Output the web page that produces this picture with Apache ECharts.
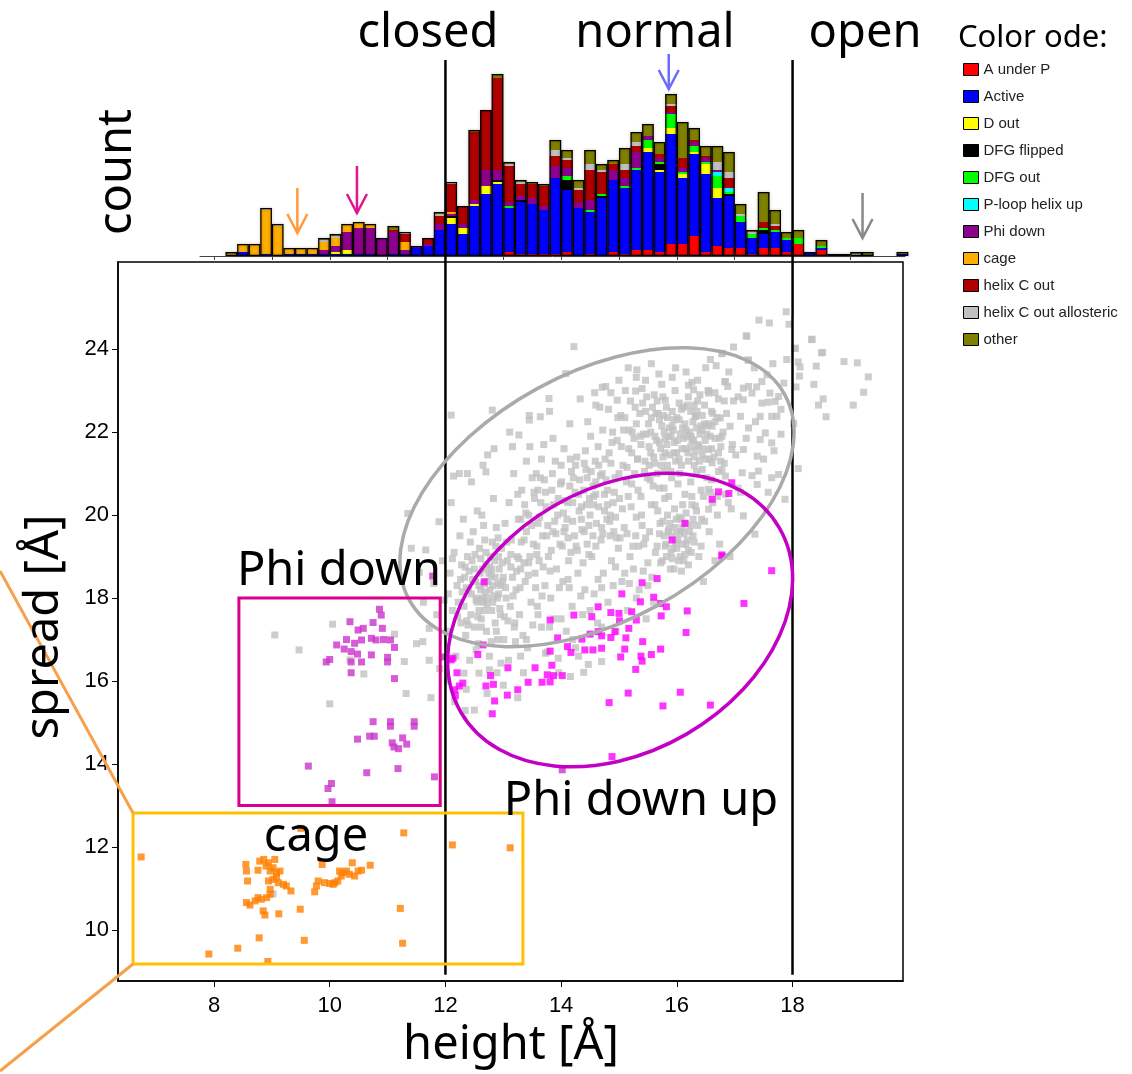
<!DOCTYPE html>
<html>
<head>
<meta charset="utf-8">
<script src="https://cdn.jsdelivr.net/npm/echarts@6/dist/echarts.min.js"></script>
<style>
  html, body { margin: 0; padding: 0; background: #fff; }
  #main { width: 1132px; height: 1074px; }
</style>
</head>
<body>
<div id="main"></div>
<script>
// ---- histogram (height bins of 0.2 A, starting at 8.2) ----
const binStart = 8.2;
const binWidth = 0.2;
const categories = ['A under P', 'Active', 'D out', 'DFG flipped', 'DFG out', 'P-loop helix up',
  'Phi down', 'cage', 'helix C out', 'helix C out allosteric', 'other'];
const catColors = ['#ff0000', '#0000ff', '#ffff00', '#000000', '#00ff00', '#00ffff',
  '#8e008e', '#ffad00', '#b00000', '#c0c0c0', '#808000'];

const aUnderP = [0,0,0,0,0,0,0,0,0,0, 0,0,0,0,0,0,0,0,0,0, 0,0,0,0,2,1,1,1,1,2,
  0,1,0,2,1,3,3,2,6,6, 10,2,5,4,4,1,4,4,2,6, 0,3,1,0,0,0,0,0,0];
const active = [0,2,0,1,0,1,1,1,1,1, 1,1,1,0,1,1,4,5,13,16, 11,25,31,36,22,26,25,22,38,31,
  24,21,29,36,33,40,49,40,55,33, 41,39,24,26,13,8,7,8,6,0, 2,1,0,0,0,0,0,0,1];
const dOut = [0,0,0,0,0,0,0,0,0,1, 2,0,0,0,0,0,0,0,0,3, 3,1,4,1,0,0,0,0,0,0,
  0,0,0,0,0,0,2,1,3,2, 1,5,5,0,0,0,0,0,0,0, 0,0,0,0,0,0,0,0,0];
const dfgFlipped = [0,0,0,0,0,0,0,0,0,0, 0,0,0,0,0,0,0,0,0,1, 0,0,0,1,0,1,0,0,0,5,
  0,0,1,0,0,0,0,3,0,0, 0,0,0,1,0,0,2,0,0,0, 0,0,0,0,0,0,0,0,0];
const dfgOut = [0,0,0,0,0,0,0,0,0,0, 0,0,0,0,0,0,0,0,0,0, 0,0,0,0,1,0,0,0,0,2,
  0,1,1,0,1,1,4,1,7,1, 3,1,6,1,3,2,1,1,1,3, 0,1,0,0,0,0,0,0,0];
const ploopUp = [0,0,0,0,0,0,0,0,0,0, 0,0,0,0,0,0,0,0,0,0, 0,0,0,0,0,0,0,0,0,0,
  0,0,0,0,0,0,0,0,0,0, 0,0,2,2,0,0,0,0,0,0, 0,0,0,0,0,0,0,0,0];
const phiDown = [0,0,0,0,0,0,0,0,2,3, 9,13,13,9,11,2,1,1,3,1, 2,2,8,5,2,2,3,2,6,4,
  3,5,0,5,4,8,2,2,1,2, 2,2,1,0,0,0,0,0,0,0, 0,0,0,0,0,0,0,0,0];
const cage = [1,4,6,22,15,3,3,3,4,4, 4,3,2,0,0,4,0,0,0,1, 0,0,0,0,0,0,0,0,0,0,
  0,0,0,0,0,0,0,0,0,0, 0,0,0,0,0,0,0,0,0,0, 0,0,0,0,0,0,0,0,0];
const helixCOut = [0,0,0,0,0,0,0,0,0,0, 0,0,0,0,1,4,0,3,4,14, 9,34,30,46,18,6,7,10,5,4,
  6,15,11,3,4,3,0,2,3,5, 1,1,0,5,0,0,3,2,0,0, 0,0,0,0,0,0,0,0,0];
const allosteric = [0,0,0,1,1,0,0,0,1,1, 0,0,0,0,0,1,0,0,1,1, 0,0,0,0,1,1,0,0,3,1,
  1,3,1,0,3,2,0,0,1,0, 0,0,4,3,1,1,0,1,0,0, 0,0,0,0,1,0,0,0,0];
const other = [1,0,0,0,0,0,0,0,1,1, 0,0,0,0,2,0,0,0,1,0, 0,1,0,2,1,1,1,1,5,4,
  4,7,3,2,8,5,6,6,5,18, 6,5,8,10,5,1,15,7,3,4, 0,3,0,1,1,2,0,0,1];
const histCounts = [aUnderP, active, dOut, dfgFlipped, dfgOut, ploopUp, phiDown, cage, helixCOut, allosteric, other];

// ---- scatter: [height, spread] ----
const greyPts = [
  [9.05,17.11],[9.47,16.75],[10.05,17.37],[11.12,17.13],[10.59,16.17],[10.0,15.45],[11.32,15.7],[10.35,16.51],[11.61,16.95],[9.02,10.87],
  [11.29,16.47],[11.72,17.27],[11.41,19.2],[11.66,19.16],[11.35,20.04],[11.89,19.84],[12.1,22.41],[11.55,18.62],[11.8,18.35],[11.95,18.9],
  [11.62,17.9],[11.85,17.6],[11.9,16.3],[11.5,16.9],[11.75,15.6],[11.98,17.95],[11.72,16.5],
  [12.03,17.2],[12.05,18.1],[12.08,18.6],[12.12,17.7],[12.15,19.1],[12.18,16.6],[12.2,18.3],[12.22,17.9],[12.25,19.5],[12.27,17.4],
  [12.04,16.0],[12.1,20.3],[12.28,18.8],[12.16,15.5],[12.24,21.0],
  [12.32,17.8],[12.33,18.5],[12.35,17.1],[12.38,19.0],[12.4,18.2],[12.42,16.5],[12.44,17.6],[12.46,18.9],[12.48,19.6],[12.5,17.3],
  [12.52,18.4],[12.54,18.0],[12.55,20.1],[12.57,16.9],[12.58,17.7],[12.36,15.8],[12.45,20.8],[12.59,19.2],[12.31,19.9],[12.5,15.3],
  [12.61,18.2],[12.62,17.5],[12.64,18.7],[12.66,17.9],[12.68,19.4],[12.7,18.4],[12.71,17.2],[12.73,18.0],[12.75,18.6],[12.76,16.6],
  [12.78,19.0],[12.8,17.7],[12.82,18.3],[12.83,20.4],[12.85,18.9],[12.86,17.4],[12.88,19.7],[12.89,16.2],[12.65,21.2],[12.72,15.7],
  [12.84,21.6],[12.63,20.0],
  [12.92,18.1],[12.93,18.7],[12.95,17.6],[12.97,19.2],[12.99,18.4],[13.01,17.0],[13.03,19.8],[13.05,18.0],[13.07,18.9],[13.09,16.5],
  [13.1,20.3],[13.12,17.8],[13.14,19.4],[13.16,18.5],[13.18,21.0],[13.19,17.3],[13.0,15.9],[13.11,22.0],
  [13.22,18.2],[13.24,19.0],[13.26,19.9],[13.28,17.6],[13.3,18.7],[13.32,20.6],[13.34,17.1],[13.36,19.4],[13.38,18.4],[13.4,21.3],
  [13.42,16.8],[13.44,20.0],[13.46,19.0],[13.48,17.9],[13.25,15.6],[13.45,22.4],[13.35,16.2],
  [12.58,18.3],[12.65,18.0],[12.7,18.8],[12.77,18.2],[12.82,17.9],[12.86,18.5],[12.9,18.0],[12.6,18.6],[12.68,17.7],[12.74,18.4],
  [12.8,18.7],[12.55,17.9],[12.95,18.3],[12.5,18.7],[12.62,17.3],[12.88,17.2],[13.0,18.5],[12.45,18.1],[12.92,19.0],[12.7,19.1],
  [13.52,19.3],[13.54,20.4],[13.55,18.6],[13.57,21.0],[13.59,17.8],[13.6,19.8],[13.62,18.9],[13.64,20.9],[13.66,17.3],[13.68,19.5],
  [13.7,21.7],[13.72,18.3],[13.74,20.2],[13.76,16.7],[13.78,19.0],[13.8,22.5],[13.82,18.0],[13.84,20.6],[13.86,19.6],[13.88,17.5],
  [13.9,21.3],[13.92,18.7],[13.94,20.0],[13.96,16.2],[13.98,19.3],
  [14.01,20.8],[14.03,18.4],[14.05,21.6],[14.07,19.7],[14.09,17.2],[14.11,20.3],[14.13,18.9],[14.15,22.2],[14.17,19.1],[14.19,17.8],
  [14.21,20.9],[14.23,19.5],[14.25,16.8],[14.27,21.4],[14.29,18.6],[14.31,20.1],[14.33,22.8],[14.35,19.9],[14.37,17.6],[14.39,20.6],
  [14.41,18.2],[14.43,21.1],[14.45,19.3],[14.47,16.4],[14.49,20.4],[14.22,24.06],[14.39,16.21],[14.16,16.11],
  [14.51,21.9],[14.53,19.0],[14.55,20.7],[14.57,18.1],[14.59,21.3],[14.61,19.8],[14.63,17.4],[14.65,20.2],[14.67,22.6],[14.69,19.4],
  [14.7,16.47],[14.71,21.0],[14.73,18.6],[14.75,20.5],[14.77,23.1],[14.79,19.9],[14.81,17.9],[14.83,21.5],[14.85,20.0],[14.87,18.9],
  [14.89,22.0],[14.91,19.6],[14.93,20.9],[14.95,17.2],[14.97,21.8],[14.99,19.2],
  [15.01,20.4],[15.03,22.4],[15.05,18.4],[15.07,21.2],[15.09,19.7],[15.11,23.0],[15.13,20.8],[15.15,17.7],[15.17,21.6],[15.19,19.0],
  [15.21,20.2],[15.23,22.0],[15.25,18.7],[15.27,21.0],[15.29,19.5],[15.31,23.5],[15.33,20.6],[15.35,18.2],[15.37,21.9],[15.39,20.0],
  [15.41,22.7],[15.43,19.3],[15.45,21.3],[15.47,17.5],[15.49,20.9],
  [15.51,22.2],[15.53,19.6],[15.55,21.5],[15.57,18.5],[15.59,20.7],[15.61,22.9],[15.63,19.1],[15.65,21.8],[15.67,20.1],[15.69,23.4],
  [15.71,19.8],[15.73,21.2],[15.75,18.9],[15.77,22.4],[15.79,20.4],[15.81,19.3],[15.83,21.7],[15.85,19.6],[15.87,22.1],[15.89,18.7],
  [15.91,20.9],[15.93,19.2],[15.95,21.5],[15.97,23.0],[15.99,19.9],
  [16.01,21.8],[16.02,19.4],[16.04,22.3],[16.06,19.0],[16.08,21.2],[16.1,19.7],[16.12,22.6],[16.14,20.5],[16.16,19.3],[16.18,21.9],
  [16.2,18.8],[16.22,22.0],[16.24,20.8],[16.26,23.2],[16.28,19.5],[16.3,21.4],[16.32,22.38],[16.34,20.1],[16.36,21.7],[16.38,19.0],
  [16.4,22.9],[16.42,20.6],[16.44,21.1],[16.46,18.4],[16.48,22.2],
  [16.52,20.9],[16.54,23.0],[16.56,19.6],[16.58,21.9],[16.6,22.5],[16.62,20.3],[16.64,21.4],[16.66,18.9],[16.68,23.6],[16.7,20.0],
  [16.72,22.8],[16.74,19.3],[16.76,21.3],[16.8,22.0],[16.84,20.5],[16.88,23.1],[16.92,19.0],[16.96,21.7],
  [15.6,21.4],[15.72,21.6],[15.84,21.2],[15.9,21.9],[16.0,21.5],[16.05,21.0],[16.15,21.6],[16.25,21.9],[16.3,21.2],[15.78,22.0],
  [15.95,22.3],[16.1,22.1],[16.2,21.3],[15.66,21.0],[16.35,22.5],[15.55,22.0],[16.45,21.6],[15.8,21.5],
  [15.22,21.5],[15.3,22.2],[15.38,21.7],[15.46,22.5],[15.52,21.2],[15.58,22.6],[15.62,21.9],[15.7,22.3],[15.76,21.4],[15.82,22.6],
  [15.86,21.9],[15.92,22.5],[15.98,21.3],[16.04,22.7],[16.09,21.6],[16.14,22.2],[16.19,21.5],[16.24,22.5],[16.29,21.8],[16.34,22.1],
  [16.39,21.3],[16.44,22.4],[16.49,21.8],[16.55,22.2],[16.6,21.6],
  [15.82,19.0],[15.9,19.5],[16.0,19.2],[16.06,19.6],[16.12,18.9],[16.18,19.4],[15.95,18.7],[16.08,19.9],[16.25,19.1],[15.88,19.8],
  [15.78,19.5],[15.84,20.0],[15.9,19.1],[15.97,19.7],[16.03,18.9],[16.1,19.3],[16.15,19.8],[16.22,19.6],[16.28,19.9],
  [13.25,20.5],[13.4,19.6],[13.5,20.9],[13.65,20.3],[13.75,19.5],[13.85,21.0],[13.95,20.4],[14.05,19.6],[14.15,20.7],[14.25,21.2],
  [14.35,20.2],[14.45,20.9],[14.55,19.5],[14.65,21.2],[14.75,20.1],[14.85,19.5],[13.6,20.6],[13.3,19.9],[14.0,21.2],[14.6,20.5],
  [14.1,19.9],[14.3,20.5],[14.5,20.0],[14.6,20.8],[14.8,20.6],[14.4,19.6],[14.2,20.3],[14.9,20.3],[15.0,21.0],[14.7,19.7],
  [12.9,17.0],[13.2,17.4],[13.4,17.0],[13.6,17.6],[13.8,17.3],[14.0,17.5],[14.2,17.0],[14.5,17.7],[14.7,17.3],[14.9,18.3],
  [15.1,18.6],[15.3,18.0],[15.5,18.3],[15.6,17.9],[13.95,16.55],[13.73,16.67],[12.32,16.19],[12.58,16.19],[12.76,16.27],[12.96,16.43],
  [12.34,15.29],[13.3,16.6],[14.3,16.6],
  [12.81,22.53],[13.64,22.37],[13.79,22.81],[14.08,23.41],[12.73,21.45],[12.38,21.0],[12.14,20.94],[12.7,21.04],[13.27,21.93],[13.16,21.65],
  [13.45,22.29],[14.71,23.08],[14.97,22.77],[15.3,23.32],[15.46,23.25],[15.92,23.32],[15.29,22.99],[15.8,22.77],[16.2,23.13],[16.84,23.21],
  [16.55,22.99],[16.78,23.89],[17.24,23.73],[17.21,24.31],
  [16.78,23.9],[17.23,23.74],[16.83,23.22],[17.15,23.06],[17.24,23.1],[17.38,23.09],[17.58,22.72],[17.7,22.74],[17.76,22.86],[17.85,23.18],
  [17.61,22.94],[17.47,22.7],[17.64,22.38],[17.73,22.38],[17.44,22.38],[17.53,21.98],[17.44,21.82],[17.64,21.74],[17.39,21.42],[17.15,21.58],
  [17.24,22.1],[16.92,22.14],[16.95,21.58],[16.72,21.5],[16.78,21.9],[16.55,21.58],[16.61,21.26],[17.41,21.06],[17.64,20.9],[17.76,20.98],
  [17.87,20.38],[17.39,20.74],[17.13,21.02],[16.78,21.1],[16.84,20.94],[16.55,20.62],[16.32,20.22],[16.43,19.9],[16.55,20.14],[17.15,19.98],
  [17.35,19.54],[16.89,20.3],[16.29,23.02],[16.55,22.94],[16.32,22.38],[16.43,22.06],[16.61,22.14],[16.26,21.82],[16.38,21.66],[16.75,22.34],
  [17.1,22.38],[17.15,22.78],[17.47,23.22],[17.3,22.94],[17.56,23.38],
  [17.89,24.9],[17.6,24.63],[17.42,24.7],[17.2,24.32],[17.94,24.6],[18.33,24.23],[18.5,23.91],[18.04,24.02],[18.1,23.69],
  [18.34,24.24],[18.52,23.92],[18.13,23.57],[18.41,23.59],[18.89,23.7],[19.12,23.67],[19.31,23.33],[19.23,22.96],[19.05,22.65],[18.58,22.37],
  [18.45,22.65],[18.53,22.8],[18.37,23.15],[18.12,23.35],[18.06,23.09],[18.05,24.02],[18.1,21.12],[18.02,22.21],
  [12.12,18.95],[12.26,18.45],[12.37,17.45],[12.43,19.35],[12.53,16.75],[12.66,19.75],[12.79,16.95],[12.91,19.45],[13.02,17.55],[13.13,19.05],
  [13.21,16.95],[13.29,18.25],[13.37,20.25],[13.43,18.55],[13.51,17.35],[13.58,19.05],[13.67,18.05],[13.73,20.55],[13.81,18.65],[13.89,19.85],
  [13.97,18.25],[14.04,20.05],[14.12,18.45],[14.18,21.05],[14.26,19.25],[14.34,18.05],[14.42,21.55],[14.48,19.05],[14.56,20.25],[14.64,18.45],
  [14.72,22.05],[14.78,20.85],[14.86,21.25],[14.94,19.95],[15.02,19.45],[15.08,22.05],[15.16,20.45],[15.24,19.25],[15.32,21.35],[15.4,19.75],
  [15.48,21.95],[15.56,20.25],[15.64,22.45],[15.7,20.65],[15.78,21.05],[15.86,20.45],[15.94,22.05],[16.02,20.75],[16.1,20.25],[16.18,22.65],
  [16.26,20.45],[16.34,21.05],[16.42,22.15],[16.5,21.35],[16.58,20.55],[16.66,22.25],[16.74,21.85],[16.86,22.45],[16.98,22.75],[17.06,20.65],
  [12.21,17.55],[12.29,18.15],[12.34,18.75],[12.39,17.35],[12.47,18.45],[12.51,19.05],[12.56,17.55],[12.61,18.95],[12.67,18.35],[12.72,17.85],
  [12.79,18.55],[12.84,18.05],[12.87,19.25],[12.94,17.75],[12.98,18.85],[13.04,18.25],[13.08,17.45],[13.13,18.75],[13.17,18.05],[13.23,18.65],
  [12.41,18.65],[12.53,17.95],[12.63,17.95],[12.76,18.75],[12.91,18.35],[13.06,19.35],[12.36,18.25],[12.69,18.15],[12.81,19.35],[13.27,18.95],
  [13.31,19.35],[13.39,20.05],[13.44,18.85],[13.49,19.75],[13.53,20.55],[13.58,19.25],[13.63,19.95],[13.69,18.75],[13.71,20.85],[13.77,19.75],
  [13.83,19.15],[13.87,20.25],[13.91,19.55],[13.99,20.75],[14.02,19.25],[14.06,20.35],[14.12,19.45],[14.16,21.35],[14.2,19.85],[14.24,20.55],
  [14.28,19.15],[14.32,20.85],[14.36,19.65],[14.4,21.25],[14.44,20.25],[14.48,19.75],[14.52,21.05],[14.56,20.45],[14.6,19.25],[14.64,21.65],
  [14.68,20.95],[14.72,19.55],[14.76,21.35],[14.8,20.25],[14.84,19.85],[14.88,21.75],[14.92,20.55],[14.96,19.45],[13.46,21.65],[13.56,18.25],
  [13.86,21.85],[14.14,18.25],[14.46,22.25],[14.7,18.25],[14.98,22.35],[13.36,18.85],[13.66,21.35],[14.38,18.85],[14.82,22.55],[14.58,22.95],
  [15.04,21.65],[15.1,22.35],[15.14,21.15],[15.2,22.75],[15.26,21.85],[15.32,21.35],[15.36,22.45],[15.42,21.95],[15.48,22.85],[15.52,21.65],
  [15.56,22.35],[15.62,21.25],[15.66,22.75],[15.7,21.75],[15.74,22.15],[15.8,21.85],[15.84,22.35],[15.88,21.45],[15.92,22.15],[15.96,21.75],
  [16.0,22.35],[16.04,21.35],[16.08,22.55],[16.12,21.85],[16.16,22.05],[16.2,22.85],[16.24,21.65],[16.28,22.25],[16.32,21.55],[16.36,22.75],
  [16.4,21.95],[16.44,21.45],[16.48,22.65],[16.52,21.95],[16.56,21.35],[16.62,22.45],[16.66,21.85],[16.7,22.35],[16.76,21.65],[16.82,22.75],
  [15.18,22.05],[15.44,21.05],[15.68,22.45],[15.9,21.05],[16.06,21.95],[16.3,22.65],[16.5,22.15],[16.72,21.05],[15.28,22.6],[15.76,22.85],
  [15.66,19.25],[15.72,18.85],[15.76,19.85],[15.8,19.25],[15.86,19.65],[15.92,18.95],[15.96,20.15],[16.0,19.55],[16.04,19.95],[16.08,18.65],
  [16.12,19.55],[16.16,20.05],[16.2,19.15],[16.24,19.75],[16.3,19.35],[16.36,19.75],[16.42,19.25],[16.48,19.85],[15.98,19.35],[16.14,19.05],
  [15.06,20.15],[15.14,19.55],[15.22,20.75],[15.3,19.95],[15.38,20.45],[15.46,19.45],[15.54,20.85],[15.62,20.25],[15.7,19.55],[15.78,20.65],
  [16.26,20.25],[16.46,20.45],[16.6,20.85],[16.7,20.45],[16.82,21.25],[16.94,20.15],[17.02,21.45],[17.1,20.55],[17.2,21.85],[17.3,20.95],
  [17.36,22.25],[17.5,21.35],[17.58,20.55],[17.68,21.55],[17.8,21.95],[15.34,19.25],[15.5,18.85],[15.18,18.35],[14.94,18.75],[15.42,18.65],
  [14.6,22.65],[14.86,22.95],[15.0,23.25],[15.16,23.55],[15.4,23.05],[15.56,23.65],[15.74,23.15],[15.98,23.55],[16.16,23.45],[16.36,23.25],
  [16.5,23.55],[16.66,22.95],[16.9,23.45],[17.06,22.85],[17.34,23.55],[16.98,24.05],[16.58,23.75],[17.66,23.65],[17.9,23.75],[17.8,22.55]
];
const phiUpPts = [
  [12.67,18.39],[15.66,18.47],[15.4,18.37],[15.05,18.1],[15.37,17.91],[15.6,18.02],[15.72,17.87],[15.82,17.79],[16.18,17.69],[15.73,17.57],
  [17.16,17.87],[17.64,18.66],[16.78,19.01],[14.22,17.59],[14.64,17.79],[14.86,17.65],[15.0,17.63],[15.22,17.67],[15.3,17.47],[14.53,17.55],
  [13.81,17.47],[15.01,17.45],[15.17,17.27],[14.64,17.19],[14.5,17.13],[14.7,17.09],[14.86,17.05],[14.93,17.19],[15.12,17.04],[15.41,16.95],
  [13.94,17.04],[14.36,17.01],[14.11,16.83],[14.41,16.75],[14.55,16.75],[14.7,16.79],[15.1,16.77],[15.72,16.77],[16.16,17.17],[15.56,16.64],
  [15.38,16.6],[15.4,16.48],[15.03,16.58],[14.17,16.69],[13.81,16.72],[15.29,16.28],[13.84,16.38],[13.55,16.32],[13.76,16.15],[13.87,16.13],
  [14.02,16.13],[13.81,15.98],[13.67,15.97],[13.43,15.97],[13.08,16.32],[13.25,15.79],[13.07,15.66],[12.83,15.92],[12.7,15.88],[12.78,16.13],
  [12.65,16.87],[12.56,16.64],[12.24,15.88],[12.16,15.79],[12.17,15.65],[12.13,16.55],[12.1,16.51],[12.85,15.52],[12.81,15.21],[15.16,15.71],
  [14.83,15.48],[15.76,15.4],[16.58,15.42],[16.06,15.73],[14.88,14.18],[16.95,20.78],[16.72,20.56],[16.9,20.52],[16.61,20.38],[16.14,19.8],
  [16.78,19.04],[15.92,19.4],[12.2,16.2],[12.3,15.95]
];
const phiDownPts = [
  [10.35,17.43],[10.49,17.23],[10.58,17.27],[10.29,17.0],[10.43,16.91],[10.55,16.99],[10.12,16.87],[10.25,16.77],[10.37,16.71],[10.48,16.65],
  [10.75,17.41],[10.86,17.73],[10.89,17.59],[10.91,17.27],[10.72,17.03],[10.8,16.99],[10.93,17.0],[11.05,16.99],[11.12,16.81],[10.72,16.63],
  [11.0,16.57],[11.0,16.46],[10.55,16.46],[10.37,16.46],[9.94,16.46],[10.0,16.52],[10.37,16.2],[11.12,16.06],[10.75,15.02],[11.05,15.02],
  [11.05,14.91],[11.46,15.02],[11.46,14.91],[10.48,14.6],[10.69,14.67],[10.77,14.67],[11.08,14.51],[11.11,14.41],[11.19,14.37],[11.26,14.63],
  [11.33,14.48],[9.63,13.95],[10.64,13.79],[11.18,13.89],[11.81,13.69],[10.03,13.53],[9.97,13.41],[10.04,13.09],[11.78,18.53],[11.95,16.58],
  [14.02,13.86]
];
const cagePts = [
  [6.74,11.76],[11.28,12.34],[12.12,12.05],[13.12,11.98],[7.91,9.42],[8.41,9.56],[8.78,9.81],[8.93,9.24],[9.56,9.75],[9.49,10.5],
  [9.12,10.39],[11.22,10.52],[11.26,9.68],[9.5,12.45],
  [8.55,11.58],[8.56,11.42],[8.58,11.18],[8.79,11.66],[8.86,11.7],[8.76,11.44],[8.9,11.54],[8.94,11.62],[9.05,11.7],[8.97,11.42],
  [9.02,11.5],[9.08,11.38],[9.14,11.42],[8.94,11.18],[9.02,11.22],[9.11,11.14],[9.2,11.1],[9.25,11.06],[9.33,10.94],[8.97,10.98],
  [8.56,10.66],[8.62,10.6],[8.71,10.7],[8.76,10.78],[8.82,10.74],[8.91,10.78],[8.85,10.46],[8.88,10.36],[8.97,10.86],[9.08,11.28],
  [9.87,11.58],[9.8,11.18],[9.77,11.06],[9.74,10.92],[9.91,11.14],[10.0,11.12],[10.09,11.14],[10.14,11.18],[10.2,11.3],[10.17,11.42],
  [10.29,11.42],[10.34,11.34],[10.39,11.62],[10.43,11.3],[10.49,11.42],[10.55,11.44],[10.7,11.56],[10.23,11.38],[10.06,11.1]
];

// ---- annotations (data units) ----
const cutLines = [12, 18];
const arrows = [
  { x: 9.44, top: 34, tip: 11.5, color: '#ff9a3c' },
  { x: 10.47, top: 45, tip: 21.5, color: '#e0168e' },
  { x: 15.86, top: 101, tip: 83.5, color: '#6b6bff' },
  { x: 19.21, top: 31.5, tip: 9, color: '#888888' }
];
const ellipses = [
  { c: [14.62, 20.43], rx: 214, ry: 124, deg: 28.6, color: '#aaaaaa' },
  { c: [15.02, 17.47], rx: 184, ry: 132, deg: 30, color: '#c400c4' }
];
const boxes = [
  { a: [8.43, 18.0], b: [11.91, 13.0], color: '#d9008c' },
  { a: [6.6, 12.82], b: [13.34, 9.18], color: '#ffc000' }
];

const chart = echarts.init(document.getElementById('main'));

const axisFont = 'Liberation Sans';
const bigFont = '47px "Noto Sans"';

// rows are [count, bin centre]; count comes first so the stack runs on the count
const binRow = (v, k) => [v, binStart + binWidth * (k + 0.5)];

const barSeries = categories.map((name, i) => ({
  name: name,
  type: 'bar',
  stack: 'hist',
  xAxisIndex: 0,
  yAxisIndex: 0,
  encode: { x: 1, y: 0 },
  barWidth: 11.6,
  clip: false,
  itemStyle: { color: catColors[i] },
  data: histCounts[i].map(binRow)
}));

const totals = aUnderP.map((_, k) => histCounts.reduce((s, arr) => s + arr[k], 0));

const option = {
  animation: false,
  backgroundColor: '#fff',
  legend: {
    data: categories,
    orient: 'vertical',
    left: 963,
    top: 62,
    padding: 0,
    itemWidth: 15,
    itemHeight: 12,
    itemGap: 12,
    icon: 'rect',
    selectedMode: false,
    itemStyle: { borderColor: '#000', borderWidth: 1 },
    textStyle: { fontSize: 15, fontFamily: axisFont, color: '#222' }
  },
  grid: [
    { left: 200, top: 56, width: 705, height: 200 },
    { left: 118, top: 262, width: 785, height: 719, show: true, borderColor: '#000', borderWidth: 1.5 }
  ],
  xAxis: [
    {
      type: 'value', gridIndex: 0, min: 7.757, max: 19.944,
      splitLine: { show: false },
      axisLine: { lineStyle: { color: '#444', width: 1 } },
      axisTick: { customValues: [8, 9, 10, 11, 12, 13, 14, 15, 16, 17, 18, 19], length: 4, lineStyle: { color: '#444' } },
      axisLabel: { show: false }
    },
    {
      type: 'value', gridIndex: 1, min: 6.34, max: 19.91,
      splitLine: { show: false },
      axisLine: { lineStyle: { color: '#000', width: 1.5 } },
      axisTick: { customValues: [8, 10, 12, 14, 16, 18], length: 6, lineStyle: { color: '#000' } },
      axisLabel: { customValues: [8, 10, 12, 14, 16, 18], fontSize: 22, fontFamily: axisFont, color: '#000', margin: 14 }
    }
  ],
  yAxis: [
    { type: 'value', gridIndex: 0, min: 0, max: 100, show: false },
    {
      type: 'value', gridIndex: 1, min: 8.77, max: 26.1,
      splitLine: { show: false },
      axisLine: { lineStyle: { color: '#000', width: 1.5 } },
      axisTick: { customValues: [10, 12, 14, 16, 18, 20, 22, 24], length: 6, lineStyle: { color: '#000' } },
      axisLabel: { customValues: [10, 12, 14, 16, 18, 20, 22, 24], fontSize: 22, fontFamily: axisFont, color: '#000', margin: 9 }
    }
  ],
  series: barSeries.concat([
    {
      name: 'total',
      type: 'bar',
      xAxisIndex: 0,
      yAxisIndex: 0,
      encode: { x: 1, y: 0 },
      barWidth: 11.6,
      barGap: '-100%',
      clip: false,
      z: 3,
      itemStyle: { color: 'rgba(0,0,0,0)', borderColor: '#000', borderWidth: 1.2,
        shadowBlur: 3, shadowColor: 'rgba(0,0,0,0.35)' },
      data: totals.map((t, k) => binRow(t > 0 ? t : '-', k))
    },
    { name: 'grey', type: 'scatter', xAxisIndex: 1, yAxisIndex: 1, symbol: 'rect', symbolSize: 7,
      itemStyle: { color: '#c0c0c0' }, data: greyPts },
    { name: 'phi down up', type: 'scatter', xAxisIndex: 1, yAxisIndex: 1, symbol: 'rect', symbolSize: 7,
      itemStyle: { color: '#ff00ff' }, data: phiUpPts },
    { name: 'phi down pts', type: 'scatter', xAxisIndex: 1, yAxisIndex: 1, symbol: 'rect', symbolSize: 7,
      itemStyle: { color: '#cc33cc' }, data: phiDownPts },
    { name: 'cage pts', type: 'scatter', xAxisIndex: 1, yAxisIndex: 1, symbol: 'rect', symbolSize: 7,
      itemStyle: { color: '#ff8000' }, data: cagePts }
  ])
};

chart.setOption(option);

// annotations placed through the axes
const hp = p => chart.convertToPixel({ gridIndex: 0 }, p);
const sp = p => chart.convertToPixel({ gridIndex: 1 }, p);
const g = [];

cutLines.forEach(x => {
  const top = hp([x, 98]);
  const bot = sp([x, 8.92]);
  g.push({ type: 'line', z: 100, shape: { x1: top[0], y1: top[1], x2: bot[0], y2: bot[1] },
    style: { stroke: '#000', lineWidth: 2.5 } });
});

arrows.forEach(a => {
  const t = hp([a.x, a.top]);
  const e = hp([a.x, a.tip]);
  g.push({ type: 'line', z: 100, shape: { x1: t[0], y1: t[1], x2: e[0], y2: e[1] },
    style: { stroke: a.color, lineWidth: 2.5 } });
  g.push({ type: 'polyline', z: 100, shape: { points: [[e[0] - 10, e[1] - 19], [e[0], e[1]], [e[0] + 10, e[1] - 19]] },
    style: { stroke: a.color, lineWidth: 2.5, fill: null } });
});

ellipses.forEach(el => {
  const c = sp(el.c);
  g.push({ type: 'ellipse', z: 100, x: c[0], y: c[1], rotation: el.deg * Math.PI / 180,
    shape: { cx: 0, cy: 0, rx: el.rx, ry: el.ry },
    style: { fill: null, stroke: el.color, lineWidth: 3.5 } });
});

boxes.forEach(b => {
  const p1 = sp(b.a);
  const p2 = sp(b.b);
  g.push({ type: 'rect', z: 100, shape: { x: p1[0], y: p1[1], width: p2[0] - p1[0], height: p2[1] - p1[1] },
    style: { fill: null, stroke: b.color, lineWidth: 3 } });
});

// orange callout lines from the cage box
const cageTL = sp(boxes[1].a);
const cageBL = sp([boxes[1].a[0], boxes[1].b[1]]);
g.push({ type: 'line', z: 100, shape: { x1: 0, y1: 571, x2: cageTL[0], y2: cageTL[1] },
  style: { stroke: '#f7a04a', lineWidth: 3 } });
g.push({ type: 'line', z: 100, shape: { x1: 0, y1: 1071, x2: cageBL[0], y2: cageBL[1] },
  style: { stroke: '#f7a04a', lineWidth: 3 } });

function label(text, x, y, opts) {
  const o = opts || {};
  return {
    type: 'text', z: 110, x: x, y: y, rotation: o.rotation || 0,
    style: {
      text: text, x: 0, y: 0, fill: '#000', font: o.font || bigFont,
      align: o.align || 'center', textAlign: o.align || 'center',
      verticalAlign: 'middle', textVerticalAlign: 'middle'
    }
  };
}
g.push(label('closed', 428, 34));
g.push(label('normal', 655, 34));
g.push(label('open', 865, 34));
g.push(label('count', 118, 172, { rotation: Math.PI / 2 }));
g.push(label('Color ode:', 958, 38, { align: 'left', font: '31px "Noto Sans"' }));
g.push(label('Phi down', 339, 572));
g.push(label('cage', 316, 838));
g.push(label('Phi down up', 641, 802));
g.push(label('height [Å]', 511, 1046));
g.push(label('spread [Å]', 45, 627, { rotation: Math.PI / 2 }));

chart.setOption({ graphic: g });
</script>
</body>
</html>
